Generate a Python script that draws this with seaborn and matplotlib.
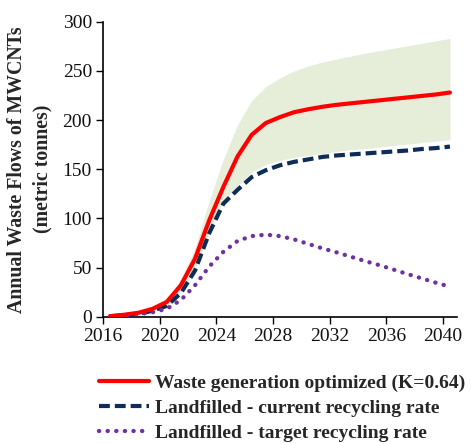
import matplotlib
matplotlib.use("Agg")
import matplotlib.pyplot as plt
import numpy as np
import pandas as pd
import seaborn as sns

# years of the series (plotted at mid-category, as in the original Excel chart)
years = list(range(2016, 2041))

waste_generated = [0.5, 2, 4, 8, 15, 32, 59, 98, 132, 163, 185, 197, 203, 208, 211,
                   213.5, 215.5, 217, 218.5, 220, 221.5, 223, 224.5, 226, 228]
landfill_current = [0.5, 1.5, 3, 6, 11, 24, 47, 85, 115, 129, 142, 149, 154, 157.5, 160,
                    162.5, 164, 165, 166, 167, 168, 169, 170.5, 171.5, 173]
landfill_target = [0.5, 1, 2.5, 4.5, 8, 17, 32, 51, 66, 77, 82, 83.4, 82, 78.6, 74,
                   69.5, 65.4, 61, 56.6, 52.5, 48, 43.4, 39, 34.6, 30.5]
band_upper = [1, 2.5, 5, 10, 18, 38, 70, 118, 160, 195, 220, 234, 243, 250, 255,
              259, 262, 265, 268, 270.5, 273, 275.5, 278, 280.5, 283]
band_lower = [0.5, 1.5, 3, 6, 11, 25, 48, 85, 118, 133, 147, 155, 159, 162, 164,
              166, 168, 170, 171, 172.5, 174, 175.5, 177, 178.5, 180]

labels = ["Waste generation optimized (K=0.64)",
          "Landfilled - current recycling rate",
          "Landfilled - target recycling rate"]

sns.set_theme(style="ticks")
plt.rcParams['font.family'] = ['Liberation Serif', 'DejaVu Serif']

df = pd.DataFrame({"year": np.array(years) + 0.5,
                   labels[0]: waste_generated,
                   labels[1]: landfill_current,
                   labels[2]: landfill_target})

fig = plt.figure(figsize=(4.71, 4.44), dpi=100)
ax = fig.add_axes([0.2187, 0.2867, 0.7516, 0.6644])

ax.fill_between(df["year"], band_lower, band_upper, color="#E6EED9", linewidth=0, zorder=1)

sns.lineplot(data=df, x="year", y=labels[0], ax=ax, color="#FF0000", lw=3,
             label=labels[0], zorder=4)
sns.lineplot(data=df, x="year", y=labels[1], ax=ax, color="#0C2D55", lw=3,
             linestyle=(0, (2.6, 1.2)), label=labels[1], zorder=3)
sns.lineplot(data=df, x="year", y=labels[2], ax=ax, color="#7030A0", lw=3.1,
             linestyle=(0, (0.05, 1.95)), dash_capstyle="round",
             label=labels[2], zorder=3)

ax.set_xlim(2016, 2041)
ax.set_ylim(0, 300)
ax.set_xticks(range(2016, 2041, 4))
ax.set_yticks(range(0, 301, 50))
ax.tick_params(axis="both", labelsize=14, length=5, width=1, color="black",
               labelcolor="#111111", direction="out", pad=3)
for s in ["left", "bottom"]:
    ax.spines[s].set_color("black")
    ax.spines[s].set_linewidth(1.2)
sns.despine(ax=ax)

ax.set_xlabel("")
ax.set_ylabel("Annual Waste Flows of MWCNTs\n(metric tonnes)", fontsize=14.3,
              fontweight="bold", linespacing=1.35)
ax.yaxis.set_label_coords(-0.143, 0.5)

handles, _ = ax.get_legend_handles_labels()
ax.get_legend().remove()
fig.legend(handles, labels, loc="upper left", bbox_to_anchor=(0.21, 0.158),
           frameon=False, prop={"weight": "bold", "size": 14},
           handlelength=2.6, handletextpad=0.3, labelspacing=0.4,
           borderpad=0, borderaxespad=0)

fig.savefig("out.png", dpi=100)
